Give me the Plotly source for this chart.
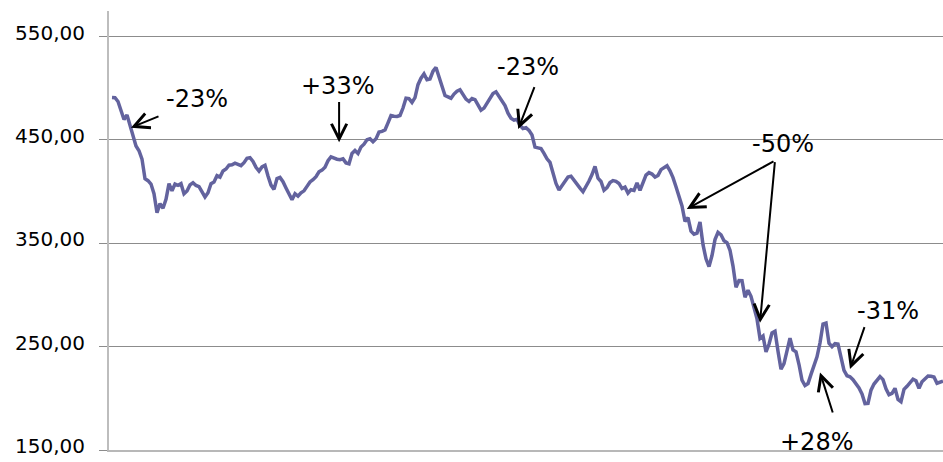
import plotly.graph_objects as go

# closing values, one per session
prices = [
    491.1, 490.9, 487.2, 478.8, 469.8, 474.3, 464.2, 455.4, 444.1, 439.6,
    431.5, 412.5, 410.6, 407.3, 398.0, 379.6, 388.4, 383.9, 392.5, 407.7,
    400.8, 407.4, 406.1, 407.7, 398.0, 400.7, 406.5, 408.6, 406.0, 404.8,
    399.6, 394.9, 399.0, 407.7, 409.4, 415.5, 414.1, 420.0, 421.9, 425.6,
    426.0, 427.6, 426.4, 425.2, 428.0, 432.2, 432.9, 429.3, 423.5, 419.9,
    423.9, 425.4, 415.1, 406.3, 402.2, 412.6, 413.8, 409.6, 403.6, 397.0,
    392.2, 398.0, 395.6, 398.8, 400.8, 405.1, 409.4, 411.6, 414.5, 419.2,
    420.8, 423.7, 429.9, 433.6, 432.3, 431.4, 430.9, 431.7, 427.8, 426.9,
    437.0, 439.9, 437.0, 443.1, 445.9, 450.2, 451.1, 448.3, 451.1, 457.7,
    458.3, 459.7, 466.5, 473.7, 473.0, 472.7, 473.7, 480.9, 490.5, 490.0,
    486.3, 491.0, 503.5, 509.8, 513.9, 508.3, 509.0, 516.5, 520.2, 511.9,
    502.7, 493.0, 491.7, 490.4, 494.4, 497.2, 498.6, 493.6, 489.5, 487.2,
    490.1, 489.0, 484.5, 478.8, 480.8, 485.9, 490.6, 494.9, 496.6, 492.6,
    487.5, 483.3, 475.9, 471.1, 469.2, 470.0, 464.1, 461.1, 461.9, 459.3,
    454.8, 443.1, 442.4, 441.7, 437.1, 431.7, 428.3, 417.3, 407.9, 401.6,
    405.9, 410.4, 414.2, 415.0, 410.7, 406.9, 403.4, 399.9, 404.6, 410.3,
    416.5, 424.4, 413.0, 409.8, 401.4, 403.9, 408.8, 410.7, 410.0, 407.9,
    403.0, 404.4, 398.6, 401.9, 401.2, 408.5, 401.2, 409.9, 416.0, 418.4,
    417.0, 414.1, 415.7, 421.3, 423.5, 425.1, 420.1, 413.6, 404.8, 395.8,
    386.1, 371.3, 374.9, 361.8, 358.7, 359.8, 370.6, 348.7, 335.0, 327.5,
    338.2, 353.6, 360.7, 358.3, 352.4, 350.6, 343.3, 328.0, 307.5, 314.0,
    313.8, 297.8, 304.6, 298.7, 287.7, 276.9, 258.0, 260.3, 245.0, 252.3,
    263.2, 264.8, 245.5, 228.2, 233.6, 247.7, 258.3, 246.9, 244.9, 232.7,
    217.6, 212.4, 214.3, 223.2, 232.4, 240.1, 253.7, 271.9, 272.8, 253.3,
    250.0, 252.9, 252.5, 239.8, 227.0, 221.9, 220.9, 218.0, 214.2, 210.0,
    204.2, 194.9, 195.2, 207.9, 213.8, 217.7, 221.0, 218.1, 209.3, 203.5,
    204.8, 209.7, 199.0, 196.8, 208.7, 211.6, 214.9, 218.5, 217.0, 209.7,
    216.1, 218.9, 221.6, 221.3, 220.6, 214.6, 215.6, 216.7,
]
days = list(range(len(prices)))

y_ticks = [150, 250, 350, 450, 550]

# annotations: label, label position, arrow heads, arrow tail
labels = ["-23%", "+33%", "-23%", "-50%", "-31%", "+28%"]
label_x = [28.3, 75.0, 138.7, 223.7, 258.5, 234.7]
label_y = [490.0, 502.6, 520.3, 446.4, 284.4, 158.1]
arrow_tail = [(16, 473.5), (75.7, 488.1), (141, 502.6), (221, 430.0), (251, 270.3), (240.4, 184.9)]
arrow_heads = [[(6.3, 461.9)], [(75.7, 447.7)], [(135.4, 460.7)],
               [(191.6, 383.3), (216, 273.2)], [(246, 228.4)], [(236, 225.1)]]

fig = go.Figure()
fig.add_trace(go.Scatter(x=days, y=prices, mode="lines",
                         line=dict(color="#63639e", width=3.5), hoverinfo="skip"))

for i, lab in enumerate(labels):
    fig.add_annotation(x=label_x[i], y=label_y[i], text=lab, showarrow=False,
                       font=dict(family="DejaVu Sans", size=24, color="black"),
                       xanchor="center", yanchor="middle")
    tx, ty = arrow_tail[i]
    for hx, hy in arrow_heads[i]:
        fig.add_annotation(x=hx, y=hy, ax=tx, ay=ty, axref="x", ayref="y",
                           text="", showarrow=True, arrowhead=5, arrowsize=1.5,
                           arrowwidth=2, arrowcolor="black")

fig.update_layout(
    width=943, height=462,
    margin=dict(l=109, r=0, t=11, b=12),
    plot_bgcolor="white", paper_bgcolor="white",
    showlegend=False,
    separators=",.",
)
fig.update_xaxes(range=[-1, 277], showticklabels=False, showgrid=False,
                 zeroline=False, showline=True, linecolor="#b8b8b8", linewidth=2)
fig.update_yaxes(range=[150, 574.8], tickvals=y_ticks, tickformat=".2f",
                 showgrid=True, gridcolor="#8c8c8c", gridwidth=1, zeroline=False,
                 showline=True, linecolor="#bdbdbd", linewidth=2,
                 ticks="outside", ticklen=8, tickcolor="#8c8c8c",
                 ticklabelstandoff=10, ticklabelshift=-4, automargin=False,
                 tickfont=dict(family="DejaVu Sans", size=20, color="black"))

fig.write_html("out.html", config={"displayModeBar": False},
               post_script="document.body.style.margin='0';document.body.style.overflow='hidden';")
